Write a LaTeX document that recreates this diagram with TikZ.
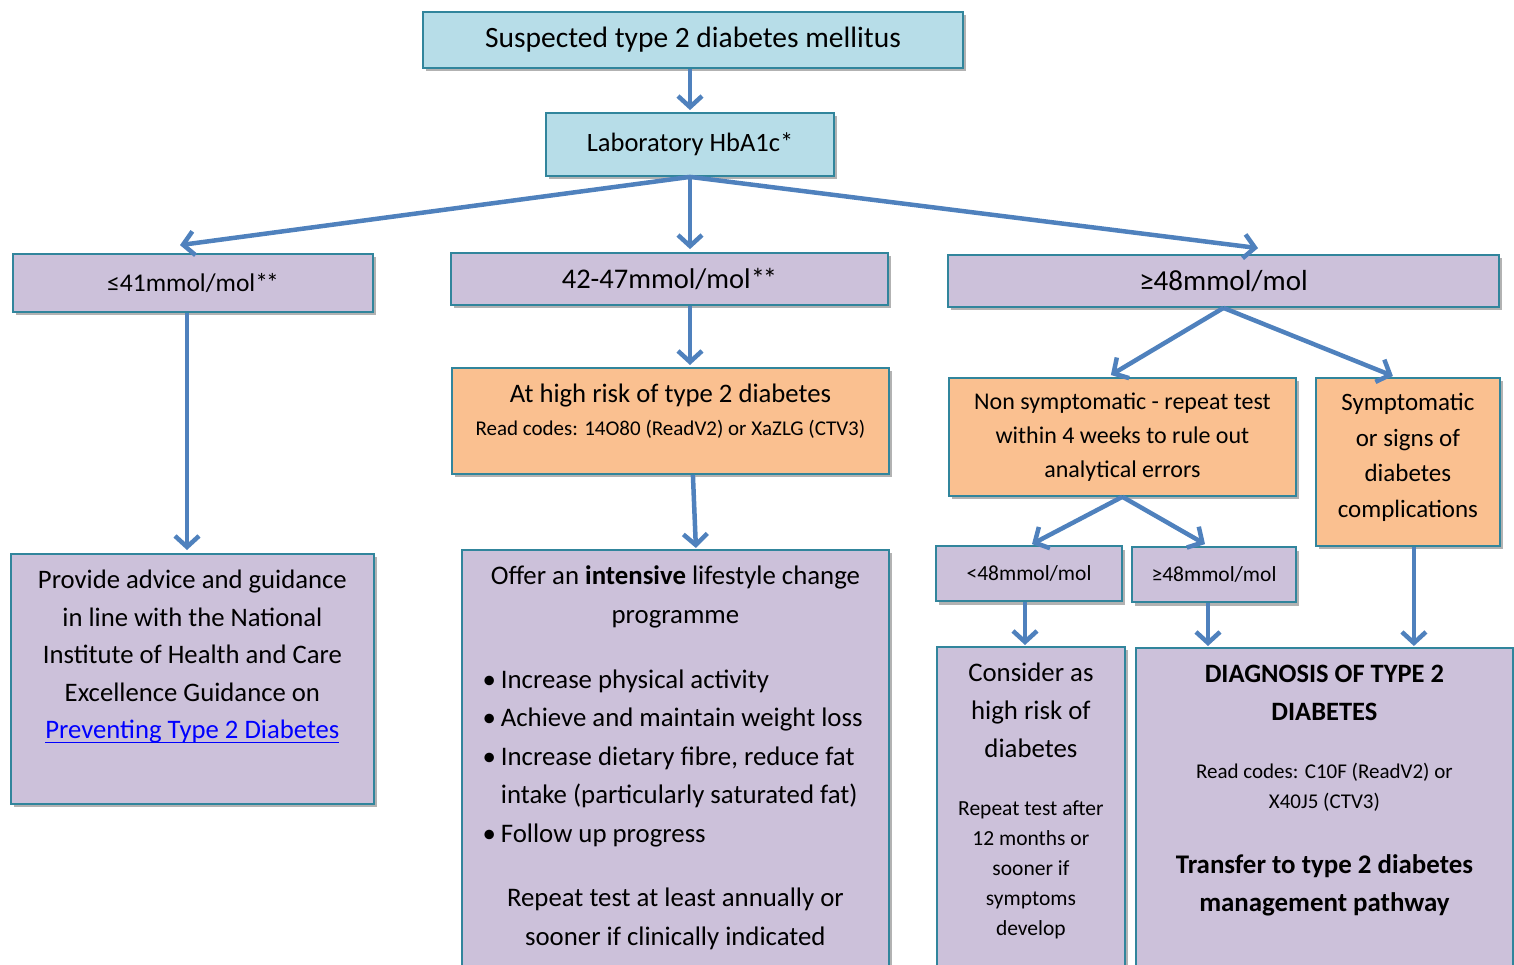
\documentclass[tikz,border=0pt]{standalone}
\usepackage{fontspec}
\setmainfont{Carlito}
\usetikzlibrary{arrows.meta,shadows}
\definecolor{bluefill}{HTML}{B7DDE8}
\definecolor{purp}{HTML}{CCC1DA}
\definecolor{orng}{HTML}{FAC090}
\definecolor{bord}{HTML}{31859C}
\definecolor{arrc}{HTML}{4F81BD}
\definecolor{linkc}{HTML}{0000FF}
\newcommand{\fs}[2]{\fontsize{#1pt}{#2pt}\selectfont}
\newcommand{\tb}[3]{\begin{minipage}[c][#2][t]{#1}\centering #3\end{minipage}}
\newcommand{\linkul}[1]{\setbox0\hbox{#1}\rlap{\rule[-4.5pt]{\wd0}{1.4pt}}\box0}
\newcommand{\stars}{*\kern-2pt*}
\tikzset{
  box/.style={draw=bord, line width=1.8pt, inner sep=0pt, text=black,
    drop shadow={shadow xshift=3pt, shadow yshift=-3.5pt, opacity=0.3, fill=black}},
  arr/.style={draw=arrc, line width=4.5pt, -{Straight Barb[length=11pt,width=24pt]}}
}
\begin{document}
\begin{tikzpicture}[x=1pt,y=-1pt]
\useasboundingbox (0,0) rectangle (1514,965);
\clip (0,0) rectangle (1514,965);

\node[box, fill=bluefill, minimum width=540pt, minimum height=56pt, font=\fs{29.5}{34}] (top) at (693,40) {Suspected type 2 diabetes mellitus};
\node[box, fill=bluefill, minimum width=288pt, minimum height=63pt, font=\fs{26.5}{30}] (lab) at (690,144.5) {Laboratory HbA1c*};

\node[box, fill=purp, minimum width=360pt, minimum height=58pt, font=\fs{25.5}{28}] (low) at (193,283) {≤41mmol/mol\stars};
\node[box, fill=purp, minimum width=437pt, minimum height=52pt, font=\fs{28.5}{30}] (mid) at (669.5,279) {42-47mmol/mol\stars};
\node[box, fill=purp, minimum width=551pt, minimum height=52pt, font=\fs{29}{30}] (high) at (1223.5,281) {≥48mmol/mol};

\node[box, fill=orng, anchor=north west] (risk) at (451,367) {\tb{437pt}{106pt}{\fs{26.7}{30}\rule{0pt}{35pt}At high risk of type 2 diabetes\par\fs{21}{33}Read codes: 14O80 (ReadV2) or XaZLG (CTV3)\par}};
\node[box, fill=orng, anchor=north west] (nonsym) at (948,377) {\tb{347pt}{118pt}{\fs{24}{34}\rule{0pt}{32pt}Non symptomatic - repeat test\\ within 4 weeks to rule out\\ analytical errors\par}};
\node[box, fill=orng, anchor=north west] (sym) at (1315,377) {\tb{184pt}{168pt}{\fs{25}{35.5}\rule{0pt}{33pt}Symptomatic\\ or signs of\\ diabetes\\ complications\par}};

\node[box, fill=purp, minimum width=186pt, minimum height=55pt, font=\fs{21.5}{24}] (lt) at (1029,573.5) {<48mmol/mol};
\node[box, fill=purp, minimum width=164pt, minimum height=55pt, font=\fs{21.5}{24}] (ge) at (1214,574.5) {≥48mmol/mol};

\node[box, fill=purp, anchor=north west] (adv) at (10,553) {\tb{363pt}{250pt}{\fs{26.7}{37.5}\rule{0pt}{35pt}Provide advice and guidance\\ in line with the National\\ Institute of Health and Care\\ Excellence Guidance on\\ \textcolor{linkc}{\linkul{Preventing Type 2 Diabetes}}\par}};

\node[box, fill=purp, anchor=north west] (offer) at (461,549) {\tb{427pt}{440pt}{\fs{26.8}{38.5}\rule{0pt}{35pt}Offer an \textbf{intensive} lifestyle change\\ programme\par
\vspace{26.5pt}\raggedright
\noindent\hspace*{39pt}\llap{•\hspace{5pt}}Increase physical activity\par
\noindent\hspace*{39pt}\llap{•\hspace{5pt}}Achieve and maintain weight loss\par
\noindent\hspace*{39pt}\llap{•\hspace{5pt}}Increase dietary fibre, reduce fat\par
\noindent\hspace*{39pt}intake (particularly saturated fat)\par
\noindent\hspace*{39pt}\llap{•\hspace{5pt}}Follow up progress\par
\vspace{26pt}\centering Repeat test at least annually or\\ sooner if clinically indicated\par}};

\node[box, fill=purp, anchor=north west] (cons) at (936,646) {\tb{188pt}{340pt}{\fs{26.8}{38}\rule{0pt}{35pt}Consider as\\ high risk of\\ diabetes\par\vspace{28pt}\fs{21.5}{30}Repeat test after\\ 12 months or\\ sooner if\\ symptoms\\ develop\par}};

\node[box, fill=purp, anchor=north west] (diag) at (1135,647) {\tb{377pt}{340pt}{\bfseries\fs{26.5}{38}\rule{0pt}{35pt}DIAGNOSIS OF TYPE 2\\ DIABETES\par\vspace{28pt}\mdseries\fs{21}{30}Read codes: C10F (ReadV2) or\\ X40J5 (CTV3)\par\vspace{27.5pt}\bfseries\fs{26.9}{37.5}Transfer to type 2 diabetes\\ management pathway\par}};

% connectors
\draw[arr] (top.south -| lab.north) -- ([yshift=2pt]lab.north);
\draw[arr] (lab.south) -- ([xshift=-13pt,yshift=8pt]low.north);
\draw[arr] (lab.south) -- ([yshift=3pt]lab.south |- mid.north);
\draw[arr] (lab.south) -- ([xshift=34.5pt,yshift=6pt]high.north);
\draw[arr] ([xshift=-6pt]low.south) -- ([xshift=-6pt,yshift=3pt]low.south |- adv.north);
\draw[arr] (lab.south |- mid.south) -- ([yshift=2pt]lab.south |- risk.north);
\draw[arr] ([xshift=22.5pt]risk.south) -- ([xshift=20.5pt,yshift=1pt]offer.north);
\draw[arr] (high.south) -- ([xshift=-11.5pt,yshift=2pt]nonsym.north);
\draw[arr] (high.south) -- ([xshift=-15pt,yshift=1pt]sym.north);
\draw[arr] (nonsym.south) -- ([xshift=3pt,yshift=1pt]lt.north);
\draw[arr] (nonsym.south) -- ([xshift=-9pt,yshift=2pt]ge.north);
\draw[arr] ([xshift=-4pt]lt.south) -- ([xshift=-4pt,yshift=1pt]lt.south |- cons.north);
\draw[arr] ([xshift=-6pt]ge.south) -- ([xshift=-6pt,yshift=1pt]ge.south |- diag.north);
\draw[arr] ([xshift=6pt]sym.south) -- ([xshift=6pt,yshift=1pt]sym.south |- diag.north);
\end{tikzpicture}
\end{document}
